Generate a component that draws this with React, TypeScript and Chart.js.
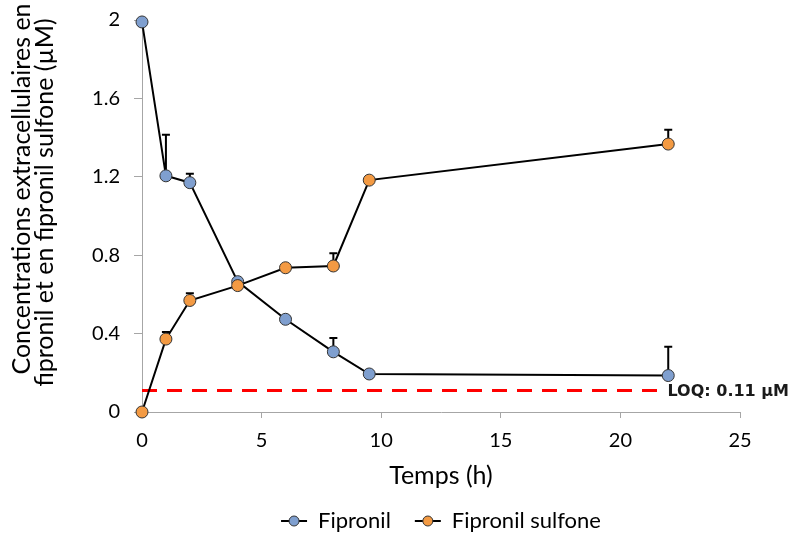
import React, { useEffect, useRef } from "react";
import { Chart, registerables } from "chart.js";

Chart.register(...registerables);

const timeH = [0, 1, 2, 4, 6, 8, 9.5, 22];
const fipronil = [1.99, 1.205, 1.17, 0.665, 0.473, 0.307, 0.194, 0.186];
const fipronilErr = [0, 0.21, 0.045, 0, 0, 0.07, 0, 0.147];
const sulfone = [0, 0.372, 0.569, 0.645, 0.736, 0.745, 1.183, 1.367];
const sulfoneErr = [0, 0.036, 0.037, 0, 0, 0.065, 0, 0.073];
const loqValue = 0.11;
const loqX = [0, 21.8];
const loqLabel = "LOQ: 0.11 µM";
const seriesNames = ["Fipronil", "Fipronil sulfone"];
const xTicks = [0, 5, 10, 15, 20, 25];
const yTicks = [0, 0.4, 0.8, 1.2, 1.6, 2];
const yTitle = ["Concentrations extracellulaires en", "fipronil et en fipronil sulfone (µM)"];
const xTitle = "Temps (h)";

const BLUE = "#7f9fcf";
const ORANGE = "#f39a43";
const FONT = "Lato";

const errorBars = {
  id: "errorBars",
  beforeDatasetsDraw(chart: any) {
    const { ctx, scales } = chart;
    const x = scales.x, y = scales.y;
    ctx.save();
    ctx.strokeStyle = "#000";
    ctx.lineWidth = 2;
    const sets: [number[], number[]][] = [[fipronil, fipronilErr], [sulfone, sulfoneErr]];
    sets.forEach(([vals, errs]) => {
      vals.forEach((v, i) => {
        const e = errs[i];
        if (!e) return;
        const px = x.getPixelForValue(timeH[i]);
        const py = y.getPixelForValue(v);
        const pt = y.getPixelForValue(v + e);
        ctx.beginPath();
        ctx.moveTo(px, py);
        ctx.lineTo(px, pt);
        ctx.moveTo(px - 4, pt);
        ctx.lineTo(px + 4, pt);
        ctx.stroke();
      });
    });
    ctx.restore();
  },
  afterDatasetsDraw(chart: any) {
    const { ctx, scales } = chart;
    ctx.save();
    ctx.fillStyle = "#1a1a1a";
    ctx.font = "bold 16px 'DejaVu Sans'";
    ctx.textAlign = "left";
    ctx.textBaseline = "middle";
    ctx.fillText(loqLabel, scales.x.getPixelForValue(loqX[1]) + 4, scales.y.getPixelForValue(loqValue) + 1);
    ctx.restore();
  },
};

const yTitlePlugin = {
  id: "yTitlePlugin",
  afterDraw(chart: any) {
    const { ctx, chartArea } = chart;
    ctx.save();
    ctx.fillStyle = "#000";
    ctx.font = `25px ${FONT}`;
    ctx.textAlign = "center";
    ctx.textBaseline = "middle";
    const mid = (chartArea.top + chartArea.bottom) / 2;
    const offsets = [-27, -13.5];
    const xs = [22, 45];
    yTitle.forEach((line, i) => {
      ctx.save();
      ctx.translate(xs[i], mid + offsets[i]);
      ctx.rotate(-Math.PI / 2);
      ctx.fillText(line, 0, 0);
      ctx.restore();
    });
    ctx.restore();
  },
};

const customLegend = {
  id: "customLegend",
  afterDraw(chart: any) {
    const { ctx, chartArea } = chart;
    const colors = [BLUE, ORANGE];
    ctx.save();
    ctx.font = `22px ${FONT}`;
    ctx.textBaseline = "middle";
    const seg = 26, gapText = 11, gapItem = 24;
    const widths = seriesNames.map((n) => seg + gapText + ctx.measureText(n).width);
    const total = widths.reduce((a, b) => a + b, 0) + gapItem * (widths.length - 1);
    let cx = (chartArea.left + chartArea.right) / 2 - total / 2;
    const cy = chart.height - 12;
    seriesNames.forEach((n, i) => {
      ctx.strokeStyle = "#000";
      ctx.lineWidth = 2;
      ctx.beginPath();
      ctx.moveTo(cx, cy);
      ctx.lineTo(cx + seg, cy);
      ctx.stroke();
      ctx.beginPath();
      ctx.arc(cx + seg / 2, cy, 5, 0, Math.PI * 2);
      ctx.fillStyle = colors[i];
      ctx.fill();
      ctx.lineWidth = 1;
      ctx.strokeStyle = "#333";
      ctx.stroke();
      ctx.fillStyle = "#000";
      ctx.fillText(n, cx + seg + gapText, cy);
      cx += widths[i] + gapItem;
    });
    ctx.restore();
  },
};

export default function App() {
  const ref = useRef<HTMLCanvasElement>(null);
  useEffect(() => {
    if (!ref.current) return;
    const pt = (xs: number[], ys: number[]) => xs.map((t, i) => ({ x: t, y: ys[i] }));
    const chart = new Chart(ref.current, {
      type: "line",
      data: {
        datasets: [
          {
            label: seriesNames[0],
            data: pt(timeH, fipronil),
            borderColor: "#000",
            borderWidth: 2,
            pointBackgroundColor: BLUE,
            pointBorderColor: "#333",
            pointBorderWidth: 1,
            pointRadius: 6,
            clip: false,
            order: 1,
          } as any,
          {
            label: seriesNames[1],
            data: pt(timeH, sulfone),
            borderColor: "#000",
            borderWidth: 2,
            pointBackgroundColor: ORANGE,
            pointBorderColor: "#333",
            pointBorderWidth: 1,
            pointRadius: 6,
            clip: false,
            order: 0,
          } as any,
          {
            label: "LOQ",
            data: pt(loqX, [loqValue, loqValue]),
            borderColor: "#ff0000",
            borderWidth: 3,
            borderDash: [15, 10],
            pointRadius: 0,
            clip: false,
            order: 2,
          } as any,
        ],
      },
      options: {
        animation: false,
        responsive: false,
        layout: { padding: { top: 20, right: 55, bottom: 41, left: 0 } },
        plugins: { legend: { display: false }, tooltip: { enabled: false } },
        scales: {
          x: {
            type: "linear",
            min: 0,
            max: 25,
            afterBuildTicks: (s: any) => { s.ticks = xTicks.map((v) => ({ value: v })); },
            afterFit: (s: any) => { s.height = 80; s.paddingLeft = 0; s.paddingRight = 0; },
            grid: { drawOnChartArea: false, drawTicks: true, tickLength: 6, color: "#a6a6a6" },
            border: { color: "#a6a6a6", width: 1 },
            ticks: { color: "#000", padding: 11, font: { family: FONT, size: 20 }, maxRotation: 0 },
            title: { display: true, text: xTitle, color: "#000", font: { family: FONT, size: 25 }, padding: { top: 0, bottom: 1 } },
          },
          y: {
            type: "linear",
            min: 0,
            max: 2,
            afterBuildTicks: (s: any) => { s.ticks = yTicks.map((v) => ({ value: v })); },
            afterFit: (s: any) => { s.width = 142; s.paddingTop = 0; s.paddingBottom = 0; },
            grid: { drawOnChartArea: false, drawTicks: true, tickLength: 8, color: "#a6a6a6" },
            border: { color: "#a6a6a6", width: 1 },
            ticks: {
              color: "#000",
              padding: 14,
              font: { family: FONT, size: 20 },
              callback: (v: any) => String(Number(Number(v).toFixed(1))),
            },
          },
        },
      },
      plugins: [errorBars, yTitlePlugin, customLegend],
    });
    return () => chart.destroy();
  }, []);
  return (
    <div style={{ position: "absolute", left: 0, top: 0, width: 795, height: 533, background: "#fff" }}>
      <canvas ref={ref} width={795} height={533} style={{ display: "block" }} />
    </div>
  );
}
